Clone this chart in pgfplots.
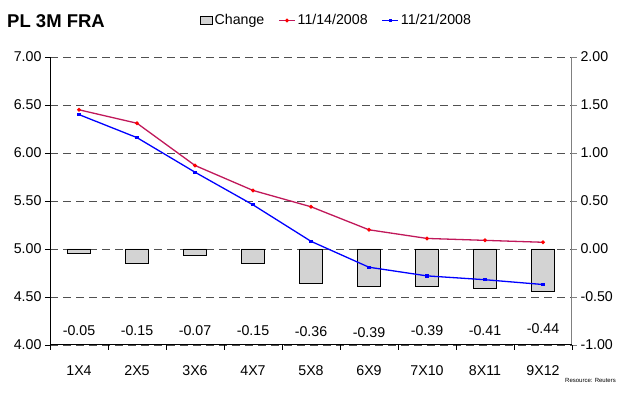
\documentclass[border=0pt]{standalone}
\usepackage{fontspec}
\setmainfont{Liberation Sans}
\usepackage{pgfplots}
\pgfplotsset{compat=1.18}
\definecolor{barfill}{HTML}{D3D3D3}
\definecolor{redline}{HTML}{C0185A}
\definecolor{gridc}{HTML}{505050}
\newcommand{\tickfont}{\fontsize{14.2}{16}\selectfont}
\pgfplotsset{shortline/.style={legend image code/.code={\draw[mark repeat=2,mark phase=2,##1] plot coordinates {(0pt,0pt) (8pt,0pt) (16pt,0pt)};}}}
\begin{document}
\begin{tikzpicture}
\path[use as bounding box] (0pt,0pt) rectangle (617pt,395pt);
% ---------- right axis: bars ----------
\begin{axis}[
  at={(50pt,50pt)}, anchor=south west, scale only axis,
  width=522pt, height=288pt,
  xmin=-0.5, xmax=8.5, ymin=-1, ymax=2,
  axis y line*=right, axis x line=none,
  ytick={-1,-0.5,0,0.5,1,1.5,2},
  /pgf/number format/assume math mode=true,
  yticklabel style={font=\tickfont, /pgf/number format/.cd, fixed, fixed zerofill, precision=2},
  ymajorgrids, grid style={gridc, dash pattern=on 8pt off 5pt, line width=0.8pt},
  y axis line style={gray, line width=1pt},
  tick align=outside, major tick length=5pt,
  every tick/.style={gray, line width=0.8pt},
  clip=false,
]
\addplot[ybar, bar width=23pt, fill=barfill, draw=black, line width=0.8pt]
  coordinates {(0,-0.05) (1,-0.15) (2,-0.07) (3,-0.15) (4,-0.36) (5,-0.39) (6,-0.39) (7,-0.41) (8,-0.44)};
\addplot[draw=none, mark=none, nodes near coords, point meta=explicit symbolic,
  every node near coord/.append style={anchor=center, font=\tickfont, text=black}]
  table[meta=lab] {
x y lab
0 -0.85 -0.05
1 -0.85 -0.15
2 -0.85 -0.07
3 -0.85 -0.15
4 -0.86 -0.36
5 -0.87 -0.39
6 -0.85 -0.39
7 -0.85 -0.41
8 -0.83 -0.44
};
\end{axis}
% ---------- left axis: lines ----------
\begin{axis}[
  at={(50pt,50pt)}, anchor=south west, scale only axis,
  width=522pt, height=288pt,
  xmin=-0.5, xmax=8.5, ymin=4, ymax=7,
  axis y line*=left, axis x line*=bottom,
  axis line style={black, line width=1pt},
  ytick={4,4.5,5,5.5,6,6.5,7},
  /pgf/number format/assume math mode=true,
  yticklabel style={font=\tickfont, /pgf/number format/.cd, fixed, fixed zerofill, precision=2},
  xtick={0,1,2,3,4,5,6,7,8},
  xticklabels={1X4,2X5,3X6,4X7,5X8,6X9,7X10,8X11,9X12},
  xticklabel style={font=\tickfont, yshift=-12pt},
  minor xtick={-0.5,0.5,1.5,2.5,3.5,4.5,5.5,6.5,7.5,8.5},
  major x tick style={draw=none},
  tick align=outside, major tick length=5pt, minor tick length=5pt,
  every tick/.style={black, line width=0.8pt},
  clip=false,
  shortline,
  legend style={at={(0.287,1.127)}, anchor=west, draw=none, fill=none,
    legend columns=-1, font=\tickfont, inner sep=0pt,
    /tikz/every even column/.append style={column sep=12pt}},
]
\addlegendimage{legend image code/.code={\draw[fill=barfill, draw=black, line width=0.6pt] (0pt,-4pt) rectangle (12pt,4pt);}}
\addlegendentry{Change}
\addplot[redline, line width=1.3pt, mark=*, mark size=1.2pt, mark options={fill=red, draw=red}]
  coordinates {(0,6.45) (1,6.31) (2,5.87) (3,5.61) (4,5.44) (5,5.20) (6,5.11) (7,5.09) (8,5.07)};
\addlegendentry{11/14/2008}
\addplot[blue, line width=1.3pt, mark=square*, mark size=1pt, mark options={fill=blue, draw=blue}]
  coordinates {(0,6.40) (1,6.16) (2,5.80) (3,5.46) (4,5.08) (5,4.81) (6,4.72) (7,4.68) (8,4.63)};
\addlegendentry{11/21/2008}
\end{axis}
\node[anchor=base west, font=\bfseries\fontsize{18.5}{20}\selectfont, inner sep=0pt] at (7pt,367.5pt) {PL 3M FRA};
\node[anchor=base east, font=\fontsize{6}{7}\selectfont, inner sep=0pt] at (616pt,12pt) {Resource: Reuters};
\end{tikzpicture}
\end{document}
